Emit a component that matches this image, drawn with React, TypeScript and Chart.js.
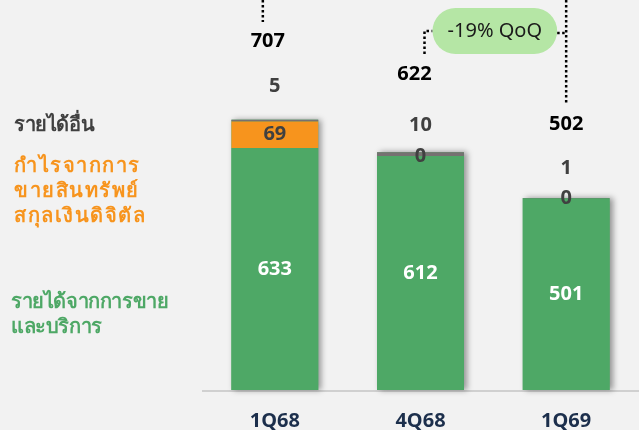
import React, { useEffect, useRef } from 'react';
import { Chart, registerables } from 'chart.js';

Chart.register(...registerables);

const categories = ['1Q68', '4Q68', '1Q69'];
const salesServices = [633, 612, 501];
const cryptoGain = [69, 0, 0];
const otherIncome = [5, 10, 1];
const totals = [707, 622, 502];
const qoqLabel = '-19% QoQ';
const legendOther = ['รายได้อื่น'];
const legendCrypto = ['กำไรจากการ', 'ขายสินทรัพย์', 'สกุลเงินดิจิตัล'];
const legendSales = ['รายได้จากการขาย', 'และบริการ'];

const GREEN = '#4ea866';
const ORANGE = '#f7941d';
const GRAY = '#767171';
const BG = '#f2f2f2';
const DARK = '#404040';
const NAVY = '#1c2f4c';
const BUBBLE = '#b5e6a5';
const FONT = '"Noto Sans", "Open Sans", sans-serif';

// label placement offsets (layout only)
const totalsDx = [-7, -6, 0];
const totalsDy = [-78, -78, -74];
const otherDy = [-33, -27, -30];

const overlay = {
  id: 'overlay',
  beforeDatasetsDraw(chart: any) {
    const ctx = chart.ctx as CanvasRenderingContext2D;
    const area = chart.chartArea;
    ctx.save();
    ctx.strokeStyle = '#d0d0d0';
    ctx.lineWidth = 2;
    ctx.beginPath();
    ctx.moveTo(area.left, area.bottom + 1);
    ctx.lineTo(area.right, area.bottom + 1);
    ctx.stroke();
    ctx.restore();
    const m0 = chart.getDatasetMeta(0);
    const m2 = chart.getDatasetMeta(2);
    ctx.save();
    ctx.shadowColor = 'rgba(0,0,0,0.4)';
    ctx.shadowBlur = 6;
    ctx.shadowOffsetX = 3;
    ctx.shadowOffsetY = 0;
    ctx.fillStyle = GREEN;
    m0.data.forEach((el: any, i: number) => {
      const top = m2.data[i].y;
      const w = el.width;
      ctx.fillRect(el.x - w / 2, top, w, el.base - top);
    });
    ctx.restore();
  },
  afterDatasetsDraw(chart: any) {
    const ctx = chart.ctx as CanvasRenderingContext2D;
    const m0 = chart.getDatasetMeta(0);
    const m1 = chart.getDatasetMeta(1);
    const m2 = chart.getDatasetMeta(2);
    const area = chart.chartArea;
    ctx.save();
    ctx.textAlign = 'center';
    ctx.textBaseline = 'middle';
    ctx.font = `bold 20px ${FONT}`;
    categories.forEach((cat, i) => {
      const g = m0.data[i];
      const o = m1.data[i];
      const t = m2.data[i];
      ctx.fillStyle = '#ffffff';
      ctx.fillText(String(salesServices[i]), g.x, (g.y + g.base) / 2);
      ctx.fillStyle = DARK;
      ctx.fillText(String(cryptoGain[i]), o.x, (o.y + o.base) / 2);
      ctx.fillText(String(otherIncome[i]), t.x, t.y + otherDy[i]);
      ctx.fillStyle = '#000000';
      ctx.fillText(String(totals[i]), t.x + totalsDx[i], t.y + totalsDy[i]);
      ctx.fillStyle = NAVY;
      ctx.fillText(cat, g.x, area.bottom + 31);
    });

    const t0 = m2.data[0];
    const t1 = m2.data[1];
    const t2 = m2.data[2];
    ctx.strokeStyle = '#000000';
    ctx.lineWidth = 2.5;
    ctx.setLineDash([2.5, 2.5]);
    ctx.beginPath();
    ctx.moveTo(t0.x - 12, 0);
    ctx.lineTo(t0.x - 12, 22);
    ctx.stroke();

    const bx0 = t1.x + 12;
    const bx1 = t2.x - 9;
    const by0 = 8;
    const by1 = 54;
    const r = (by1 - by0) / 2;
    const cy = (by0 + by1) / 2;
    ctx.beginPath();
    ctx.moveTo(t1.x + 4, 54);
    ctx.lineTo(t1.x + 4, cy);
    ctx.lineTo(bx0, cy);
    ctx.stroke();
    ctx.beginPath();
    ctx.moveTo(bx1, cy + 2);
    ctx.lineTo(t2.x, cy + 2);
    ctx.stroke();
    ctx.beginPath();
    ctx.moveTo(t2.x, 0);
    ctx.lineTo(t2.x, 104);
    ctx.stroke();
    ctx.setLineDash([]);

    ctx.fillStyle = BUBBLE;
    ctx.beginPath();
    ctx.moveTo(bx0 + r, by0);
    ctx.lineTo(bx1 - r, by0);
    ctx.arc(bx1 - r, cy, r, -Math.PI / 2, Math.PI / 2);
    ctx.lineTo(bx0 + r, by1);
    ctx.arc(bx0 + r, cy, r, Math.PI / 2, Math.PI * 1.5);
    ctx.closePath();
    ctx.fill();
    ctx.fillStyle = '#1a1a1a';
    ctx.font = `20px ${FONT}`;
    ctx.fillText(qoqLabel, (bx0 + bx1) / 2, cy);

    ctx.textAlign = 'left';
    ctx.font = `bold 20px ${FONT}`;
    (ctx as any).letterSpacing = '-0.4px';
    ctx.fillStyle = DARK;
    legendOther.forEach((s, k) => ctx.fillText(s, 14, 125 + k * 25));
    ctx.fillStyle = GREEN;
    legendSales.forEach((s, k) => ctx.fillText(s, 11, 302 + k * 25));
    ctx.fillStyle = ORANGE;
    (ctx as any).letterSpacing = '1.5px';
    legendCrypto.forEach((s, k) => ctx.fillText(s, 14, 166 + k * 25));
    (ctx as any).letterSpacing = '0px';
    ctx.restore();
  },
};

export default function App() {
  const ref = useRef<HTMLCanvasElement | null>(null);
  useEffect(() => {
    if (!ref.current) return;
    const chart = new Chart(ref.current, {
      type: 'bar',
      data: {
        labels: categories,
        datasets: [
          { label: 'รายได้จากการขายและบริการ', data: salesServices, backgroundColor: GREEN },
          { label: 'กำไรจากการขายสินทรัพย์สกุลเงินดิจิตัล', data: cryptoGain, backgroundColor: ORANGE },
          { label: 'รายได้อื่น', data: otherIncome, backgroundColor: GRAY },
        ],
      },
      options: {
        responsive: false,
        animation: false,
        events: [],
        layout: { padding: { left: 202, right: 0, top: 0, bottom: 40 } },
        datasets: { bar: { categoryPercentage: 1, barPercentage: 0.596 } },
        plugins: { legend: { display: false }, tooltip: { enabled: false } },
        scales: {
          x: { stacked: true, display: false },
          y: { stacked: true, display: false, min: 0, max: 1020 },
        },
      },
      plugins: [overlay],
    });
    return () => chart.destroy();
  }, []);
  return (
    <div style={{ position: 'fixed', left: 0, top: 0, width: 639, height: 430, background: BG }}>
      <canvas ref={ref} width={639} height={430} style={{ display: 'block' }} />
    </div>
  );
}
